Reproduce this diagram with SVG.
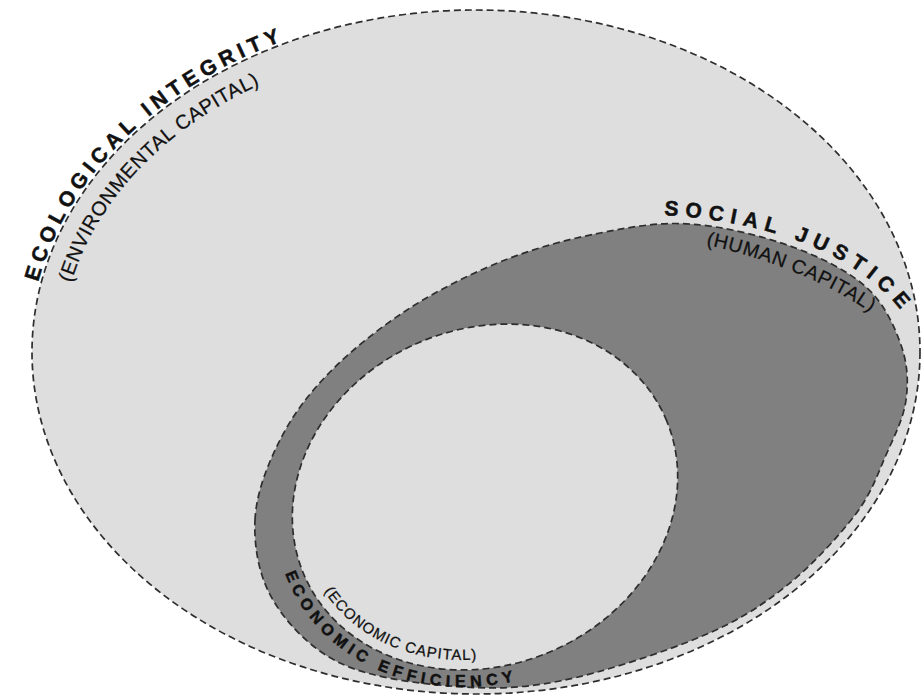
<svg xmlns="http://www.w3.org/2000/svg" xmlns:xlink="http://www.w3.org/1999/xlink" width="924" height="696" viewBox="0 0 924 696">
<style>
.shape{stroke:#2e2e2e;stroke-width:1.7;stroke-dasharray:7 4}
.light{fill:#dedede}
.dark{fill:#808080}
.lbl{font-family:"Liberation Sans",Arial,sans-serif;fill:#111}
.b{font-weight:bold;stroke:#111;stroke-width:0.5}
.r{stroke:#111;stroke-width:0.25}
</style>
<defs>
<path id="pEco" d="M 38.3,282 A 447,345 0 0 1 476,7"/>
<path id="pEnv" d="M 71.2,283 A 415,313 0 0 1 476,39"/>
<path id="pSoc" d="M 664,215 C 760,221 860,249 909,321"/>
<path id="pHum" d="M 706,245 C 760,256 830,282 875,316"/>
<path id="pEff" d="M 285.1,573.4 A 214,185 -23.5 0 0 541.4,673.5"/>
<path id="pCap" d="M 324,591.1 A 187,158 -23.5 0 0 517.3,652.7"/>
</defs>
<rect width="924" height="696" fill="#ffffff"/>
<g id="ecological">
<ellipse class="shape light" cx="476" cy="352" rx="444" ry="342"/>
<text class="lbl b" font-size="21" letter-spacing="5.1"><textPath xlink:href="#pEco" href="#pEco">ECOLOGICAL INTEGRITY</textPath></text>
<text class="lbl r" font-size="20" letter-spacing="0.5"><textPath xlink:href="#pEnv" href="#pEnv">(ENVIRONMENTAL CAPITAL)</textPath></text>
</g>
<g id="social">
<path class="shape dark" d="M 255,520 C 256.17,493.33 267.5,464.67 280,440 C 292.5,415.33 308.33,394 330,372 C 351.67,350 380.83,326.67 410,308 C 439.17,289.33 473.33,272.5 505,260 C 536.67,247.5 569.17,239 600,233 C 630.83,227 658.33,221.83 690,224 C 721.67,226.17 760.67,235.5 790,246 C 819.33,256.5 847.5,270.5 866,287 C 884.5,303.5 894.33,326.17 901,345 C 907.67,363.83 908.5,381.67 906,400 C 903.5,418.33 894.5,435.83 886,455 C 877.5,474.17 871.83,493 855,515 C 838.17,537 810.83,566.67 785,587 C 759.17,607.33 737.5,621.33 700,637 C 662.5,652.67 601.67,672.83 560,681 C 518.33,689.17 486.67,689 450,686 C 413.33,683 369.5,677.33 340,663 C 310.5,648.67 287.17,623.83 273,600 C 258.83,576.17 253.83,546.67 255,520 Z"/>
<text class="lbl b" font-size="21" letter-spacing="6.8"><textPath xlink:href="#pSoc" href="#pSoc">SOCIAL JUSTICE</textPath></text>
<text class="lbl r" font-size="19.5" letter-spacing="0.6"><textPath xlink:href="#pHum" href="#pHum">(HUMAN CAPITAL)</textPath></text>
</g>
<g id="economic">
<ellipse class="shape light" cx="485" cy="497" rx="197" ry="168" transform="rotate(-23.5 485 497)"/>
<text class="lbl b" font-size="16" letter-spacing="4.9"><textPath xlink:href="#pEff" href="#pEff">ECONOMIC EFFICIENCY</textPath></text>
<text class="lbl r" font-size="15" letter-spacing="1"><textPath xlink:href="#pCap" href="#pCap">(ECONOMIC CAPITAL)</textPath></text>
</g>
<g id="connectors"/>
</svg>
